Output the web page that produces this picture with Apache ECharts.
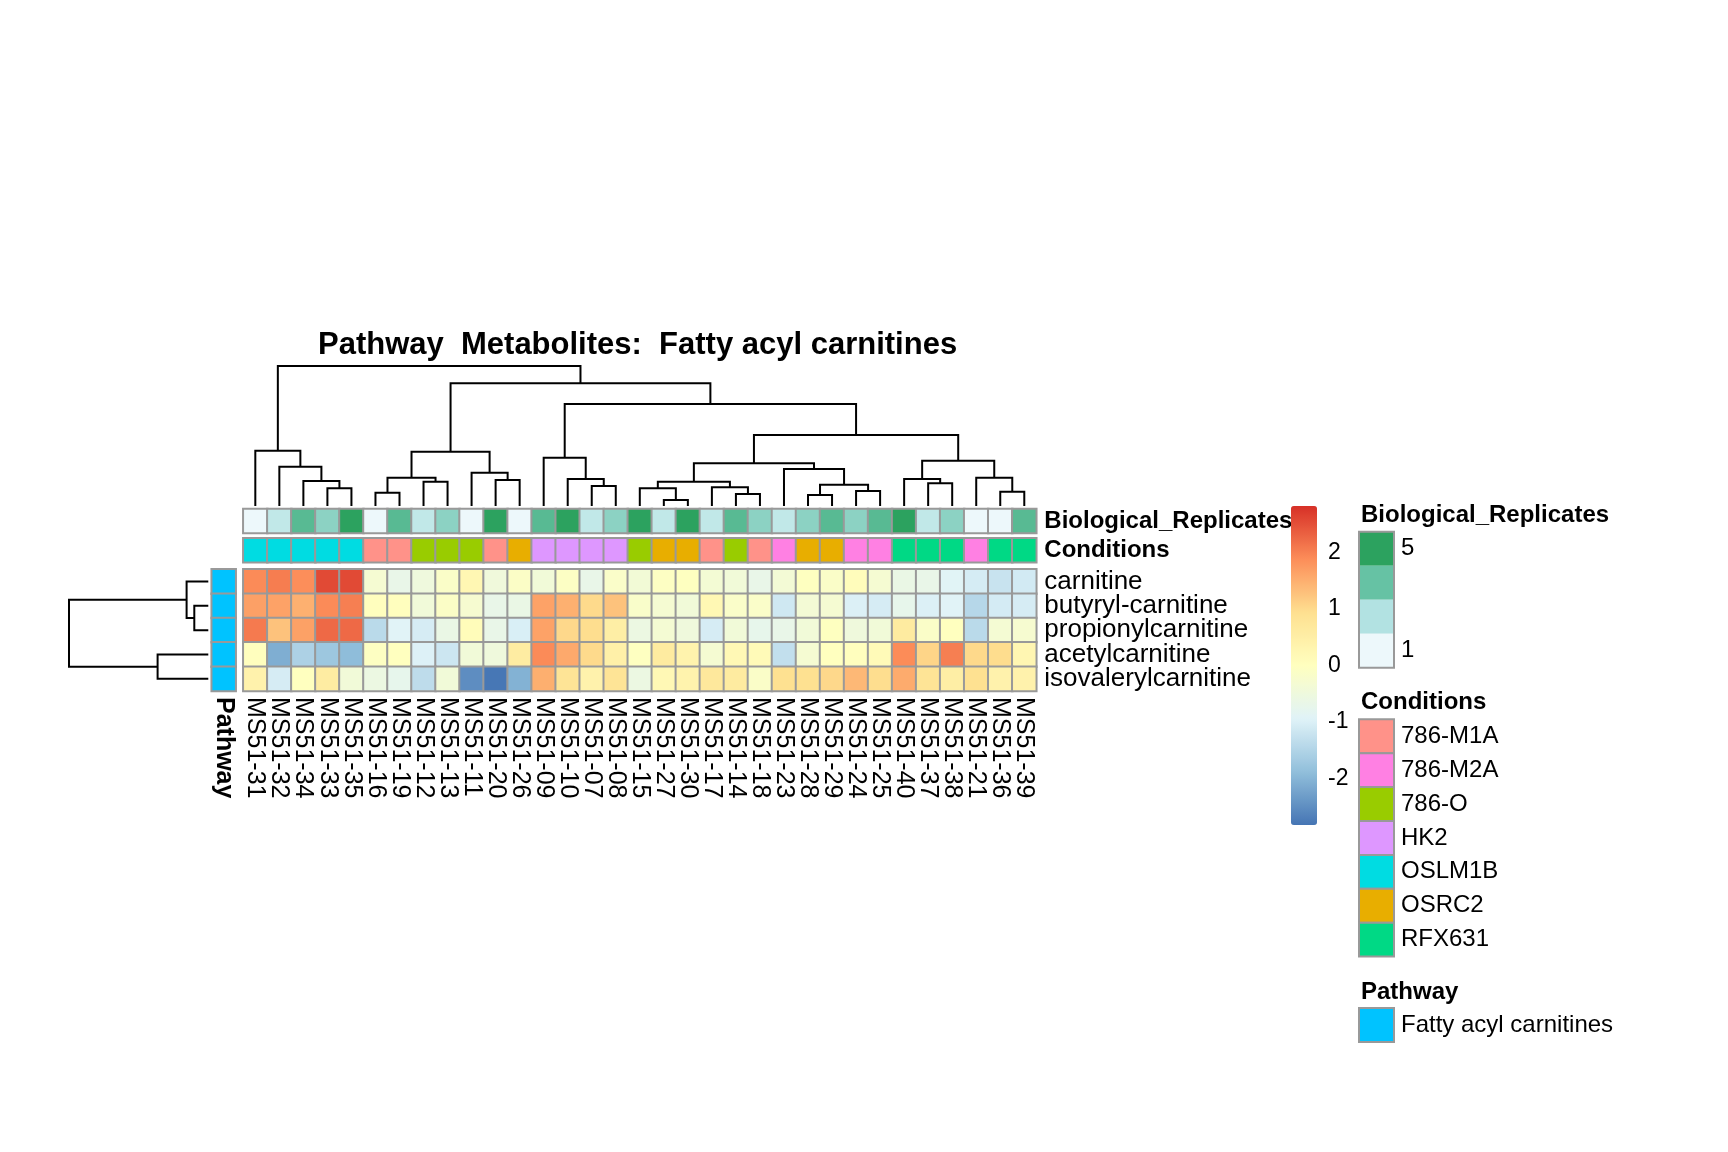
<!DOCTYPE html>
<html><head><meta charset="utf-8">
<script src="https://cdn.jsdelivr.net/npm/echarts@6/dist/echarts.min.js"></script>
<style>html,body{margin:0;padding:0;background:#fff}#c{width:1728px;height:1152px}</style>
</head><body><div id="c"></div>
<script>
// ---------------- data ----------------
const colLabels = ['MS51-31','MS51-32','MS51-34','MS51-33','MS51-35','MS51-16','MS51-19','MS51-12','MS51-13','MS51-11','MS51-20','MS51-26','MS51-09','MS51-10','MS51-07','MS51-08','MS51-15','MS51-27','MS51-30','MS51-17','MS51-14','MS51-18','MS51-23','MS51-28','MS51-29','MS51-24','MS51-25','MS51-40','MS51-37','MS51-38','MS51-21','MS51-36','MS51-39'];
const rowLabels = ['carnitine','butyryl-carnitine','propionylcarnitine','acetylcarnitine','isovalerylcarnitine'];

const carnitine = [1.9,2.04,1.87,2.56,2.56,-0.31,-0.68,-0.5,-0.15,0.24,-0.46,-0.12,-0.41,-0.08,-0.68,-0.16,-0.38,-0.07,-0.02,-0.35,-0.41,-0.67,-0.36,-0.02,-0.15,0.08,-0.31,-0.63,-0.68,-0.9,-1.07,-1.23,-1.11];
const butyrylCarnitine = [1.66,1.64,1.48,1.9,2.02,0.02,0.02,-0.43,-0.12,-0.28,-0.68,-0.63,1.64,1.48,1.01,1.28,-0.18,-0.31,-0.41,0.22,-0.16,-0.16,-1.14,-0.36,-0.31,-0.99,-1.06,-0.73,-0.99,-0.92,-1.44,-1.08,-1.06];
const propionylcarnitine = [2.07,1.28,1.65,2.24,2.24,-1.39,-0.92,-1.06,-0.63,0.1,-0.68,-1.02,1.64,1.03,0.96,0.52,-0.57,-0.33,-0.48,-1.06,-0.41,-0.73,-0.68,-0.41,-0.02,-0.48,-0.41,0.62,-0.15,0.0,-1.39,-0.33,-0.28];
const acetylcarnitine = [0.02,-2.1,-1.55,-1.74,-1.9,-0.05,0.0,-0.97,-1.18,-0.41,-0.48,0.58,1.9,1.56,1.01,0.46,-0.03,0.62,0.36,-0.31,0.2,0.14,-1.3,-0.31,0.0,0.02,0.14,1.89,1.07,2.02,1.02,0.97,0.26];
const isovalerylcarnitine = [0.38,-1.06,0.0,0.58,-0.41,-0.58,-0.74,-1.35,-0.41,-2.51,-2.8,-2.05,1.5,0.82,0.38,0.82,-0.58,0.2,0.36,0.7,0.62,-0.15,0.92,0.92,1.03,1.39,0.96,1.54,0.82,0.52,0.92,0.38,0.38];

const bioReplicates = [1,2,4,3,5,1,4,2,3,1,5,1,4,5,2,3,5,2,5,2,4,3,2,3,4,3,4,5,2,3,1,1,4];
const conditions = ['OSLM1B','OSLM1B','OSLM1B','OSLM1B','OSLM1B','786-M1A','786-M1A','786-O','786-O','786-O','786-M1A','OSRC2','HK2','HK2','HK2','HK2','786-O','OSRC2','OSRC2','786-M1A','786-O','786-M1A','786-M2A','OSRC2','OSRC2','786-M2A','786-M2A','RFX631','RFX631','RFX631','786-M2A','RFX631','RFX631'];
const conditionNames = ['786-M1A','786-M2A','786-O','HK2','OSLM1B','OSRC2','RFX631'];
const conditionColors = ['#FF9289','#FF80E3','#99CC00','#DE97FF','#00DCE2','#E8AE00','#00D985'];
const pathwayName = 'Fatty acyl carnitines';
const pathwayColor = '#00C3FF';

const heatColors = ['#4575B4','#91BFDB','#E0F3F8','#FFFFBF','#FEE090','#FC8D59','#D73027'];
const heatMin = -2.82, heatMax = 2.82;
const colorbarTicks = [-2,-1,0,1,2];
const brColors = ['#EDF8FB','#B2E2E2','#66C2A4','#2CA25F'];
const brLegendLabels = ['5','1'];

// dendrograms: [childA, childB, height]; string = leaf, number = earlier merge index
const colMerges = [
  ['MS51-33','MS51-35',17.7],['MS51-34',0,25],['MS51-32',1,39.3],['MS51-31',2,55.3],
  ['MS51-16','MS51-19',13.3],['MS51-12','MS51-13',24.3],[4,5,28.3],['MS51-20','MS51-26',26],['MS51-11',7,33.3],[6,8,54.3],
  ['MS51-07','MS51-08',20],['MS51-10',10,27],['MS51-09',11,48.3],
  ['MS51-27','MS51-30',6],['MS51-15',13,17.7],['MS51-14','MS51-18',12],['MS51-17',15,18.7],[14,16,24.3],
  ['MS51-28','MS51-29',11],['MS51-24','MS51-25',15],[18,19,21.3],['MS51-23',20,37],[17,21,42.7],
  ['MS51-37','MS51-38',22.7],['MS51-40',23,27],['MS51-36','MS51-39',14.3],['MS51-21',25,28.3],[24,26,45.3],
  [22,27,71],[12,28,102],[9,29,122.7],[3,30,140]
];
const rowMerges = [
  ['butyryl-carnitine','propionylcarnitine',14],['carnitine',0,21.7],
  ['acetylcarnitine','isovalerylcarnitine',50.7],[1,2,139.3]
];

// ---------------- build ----------------
const FONT = '"Liberation Sans", Arial, Helvetica, sans-serif';
const matrix = [carnitine, butyrylCarnitine, propionylcarnitine, acetylcarnitine, isovalerylcarnitine];
const heatData = [];
matrix.forEach((row, r) => row.forEach((v, c) => heatData.push([c, r, v])));
const brData = bioReplicates.map((v, c) => [c, 0, v]);
const condData = conditions.map((n, c) => [c, 0, conditionNames.indexOf(n)]);
const pathData = rowLabels.map((n, r) => [0, r, 0]);

function dendro(merges, leaves, swap) {
  const pos = [], hts = [], out = [];
  merges.forEach((m, k) => {
    const get = ch => typeof ch === 'number' ? [pos[ch], hts[ch]] : [leaves.indexOf(ch) + 0.5, 0];
    const [xa, ha] = get(m[0]);
    const [xb, hb] = get(m[1]);
    const h = m[2];
    pos[k] = (xa + xb) / 2; hts[k] = h;
    let pts = [[xa, ha], [xa, h], [xb, h], [xb, hb]];
    if (swap) pts = pts.map(p => [p[1], p[0]]);
    out.push({coords: pts});
  });
  return out;
}
const colTreeMax = colMerges[colMerges.length - 1][2];
const rowTreeMax = rowMerges[rowMerges.length - 1][2];

const HX = 243.3, HW = 793, HY = 569.3, HH = 121.7;
const hidden = {show: false};
const catHidden = (data) => ({type: 'category', data, show: false});

const grids = [
  {left: HX, top: HY, width: HW, height: HH},          // 0 main
  {left: HX, top: 538.3, width: HW, height: 24},       // 1 conditions
  {left: HX, top: 509, width: HW, height: 24},         // 2 bio replicates
  {left: HX, top: 506 - 140, width: HW, height: 140},  // 3 col dendrogram
  {left: 69, top: HY, width: 139.3, height: HH},       // 4 row dendrogram
  {left: 211.7, top: HY, width: 24, height: HH},       // 5 pathway
  {left: 1291, top: 506, width: 26, height: 319}       // 6 colorbar axis
];

const option = {
  animation: false,
  backgroundColor: '#fff',
  title: {
    text: 'Pathway  Metabolites:  Fatty acyl carnitines',
    left: 318, top: 330, padding: 0,
    textStyle: {fontFamily: FONT, fontWeight: 'bold', fontSize: 31, color: '#000'}
  },
  grid: grids,
  xAxis: [
    {gridIndex: 0, type: 'category', data: colLabels, position: 'bottom',
     axisLine: hidden, axisTick: hidden,
     axisLabel: {interval: 0, hideOverlap: false, rotate: -90, margin: 6, fontSize: 25, fontFamily: FONT, color: '#000'}},
    Object.assign({gridIndex: 1}, catHidden(colLabels)),
    Object.assign({gridIndex: 2}, catHidden(colLabels)),
    {gridIndex: 3, type: 'value', min: 0, max: colLabels.length, show: false},
    {gridIndex: 4, type: 'value', min: 0, max: rowTreeMax, inverse: true, show: false},
    {gridIndex: 5, type: 'category', data: ['Pathway'], axisLine: hidden, axisTick: hidden,
     axisLabel: {interval: 0, rotate: -90, margin: 6, fontSize: 25, fontWeight: 'bold', fontFamily: FONT, color: '#000'}},
    {gridIndex: 6, type: 'value', show: false, min: 0, max: 1}
  ],
  yAxis: [
    {gridIndex: 0, type: 'category', data: rowLabels, inverse: true, position: 'right',
     axisLine: hidden, axisTick: hidden,
     axisLabel: {interval: 0, hideOverlap: false, margin: 8, fontSize: 26, fontFamily: FONT, color: '#000'}},
    {gridIndex: 1, type: 'category', data: ['Conditions'], position: 'right', axisLine: hidden, axisTick: hidden,
     axisLabel: {interval: 0, margin: 8, fontSize: 24, fontWeight: 'bold', fontFamily: FONT, color: '#000'}},
    {gridIndex: 2, type: 'category', data: ['Biological_Replicates'], position: 'right', axisLine: hidden, axisTick: hidden,
     axisLabel: {interval: 0, margin: 8, fontSize: 24, fontWeight: 'bold', fontFamily: FONT, color: '#000'}},
    {gridIndex: 3, type: 'value', min: 0, max: colTreeMax, show: false},
    {gridIndex: 4, type: 'value', min: 0, max: rowLabels.length, inverse: true, show: false},
    Object.assign({gridIndex: 5, inverse: true}, catHidden(rowLabels)),
    {gridIndex: 6, type: 'value', min: heatMin, max: heatMax, position: 'right',
     axisLine: hidden, axisTick: hidden, splitLine: hidden,
     axisLabel: {customValues: colorbarTicks, margin: 11, fontSize: 23, fontFamily: FONT, color: '#000'}}
  ],
  visualMap: [
    {type: 'continuous', seriesIndex: 0, dimension: 2, min: heatMin, max: heatMax,
     inRange: {color: heatColors}, left: 1291, top: 506, itemWidth: 26, itemHeight: 319,
     padding: 0, calculable: false, hoverLink: false, text: null},
    {type: 'piecewise', seriesIndex: 1, dimension: 2, show: false,
     pieces: conditionNames.map((n, i) => ({value: i, color: conditionColors[i]}))},
    {type: 'continuous', seriesIndex: 2, dimension: 2, show: false, min: 1, max: 5,
     inRange: {color: brColors}},
    {type: 'piecewise', seriesIndex: 5, dimension: 2, show: false,
     pieces: [{value: 0, color: pathwayColor}]}
  ],
  series: [
    {type: 'heatmap', xAxisIndex: 0, yAxisIndex: 0, data: heatData,
     itemStyle: {borderColor: '#999', borderWidth: 2}, emphasis: {disabled: true}},
    {type: 'heatmap', xAxisIndex: 1, yAxisIndex: 1, data: condData,
     itemStyle: {borderColor: '#999', borderWidth: 2}, emphasis: {disabled: true}},
    {type: 'heatmap', xAxisIndex: 2, yAxisIndex: 2, data: brData,
     itemStyle: {borderColor: '#999', borderWidth: 2}, emphasis: {disabled: true}},
    {type: 'lines', coordinateSystem: 'cartesian2d', xAxisIndex: 3, yAxisIndex: 3, polyline: true,
     silent: true, data: dendro(colMerges, colLabels, false),
     lineStyle: {color: '#000', width: 2, opacity: 1}},
    {type: 'lines', coordinateSystem: 'cartesian2d', xAxisIndex: 4, yAxisIndex: 4, polyline: true,
     silent: true, data: dendro(rowMerges, rowLabels, true),
     lineStyle: {color: '#000', width: 2, opacity: 1}},
    {type: 'heatmap', xAxisIndex: 5, yAxisIndex: 5, data: pathData,
     itemStyle: {borderColor: '#999', borderWidth: 2}, emphasis: {disabled: true}}
  ],
  graphic: []
};

// ---------------- legends (annotation keys) ----------------
const LX = 1359, LW = 35, LH = 34, TX = 1401, TTX = 1361;
const g = option.graphic;
function txt(x, y, t, bold) {
  g.push({type: 'text', x, y, style: {text: t, fill: '#000', font: (bold ? 'bold ' : '') + '24px ' + FONT,
    textAlign: 'left', textVerticalAlign: 'middle', align: 'left', verticalAlign: 'middle'}});
}
function box(x, y, w, h, fill, stroke) {
  g.push({type: 'rect', shape: {x, y, width: w, height: h},
    style: {fill: fill, stroke: stroke || null, lineWidth: stroke ? 2 : 0}});
}
// Biological replicates key
txt(TTX, 515, 'Biological_Replicates', true);
const brTop = 531.7;
brColors.slice().reverse().forEach((c, i) => box(LX, brTop + i * LH, LW, LH, c));
box(LX, brTop, LW, LH * brColors.length, 'none', '#999');
txt(TX, brTop + LH / 2, brLegendLabels[0]);
txt(TX, brTop + LH * (brColors.length - 0.5), brLegendLabels[1]);
// Conditions key
txt(TTX, 702, 'Conditions', true);
const cTop = 719.3, cH = 33.9;
conditionNames.forEach((n, i) => {
  box(LX, cTop + i * cH, LW, cH, conditionColors[i], '#999');
  txt(TX, cTop + i * cH + cH / 2, n);
});
// Pathway key
txt(TTX, 992, 'Pathway', true);
box(LX, 1008, LW, LH, pathwayColor, '#999');
txt(TX, 1008 + LH / 2, pathwayName);

const chart = echarts.init(document.getElementById('c'), null, {renderer: 'canvas'});
chart.setOption(option);
</script></body></html>
